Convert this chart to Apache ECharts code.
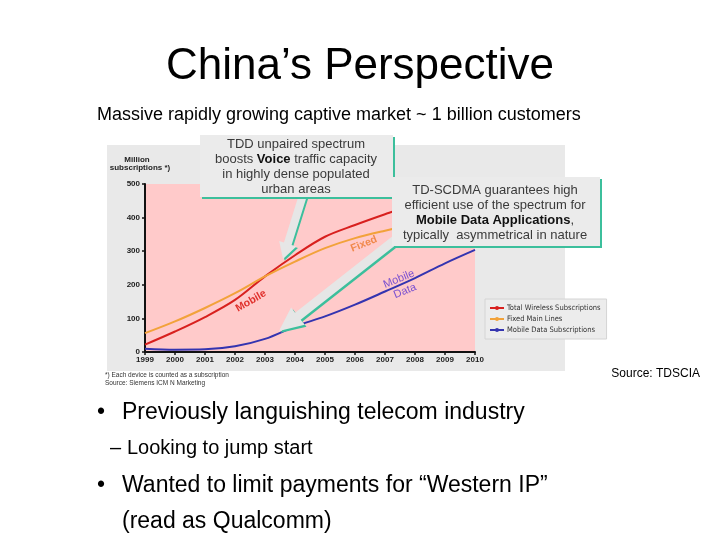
<!DOCTYPE html>
<html>
<head>
<meta charset="utf-8">
<script src="https://cdn.jsdelivr.net/npm/echarts@6/dist/echarts.min.js"></script>
<style>
html,body{margin:0;padding:0;background:#fff;}
#c{width:720px;height:540px;}
</style>
</head>
<body>
<div id="c"></div>
<script>
const years = [1999, 2000, 2001, 2002, 2003, 2004, 2005, 2006, 2007, 2008, 2009, 2010];
const wireless = [22, 61, 104, 155, 225, 288, 343, 378, 410, 440, 465, 485];
const fixedLines = [56, 91, 131, 175, 225, 269, 309, 339, 361, 380, 395, 405];
const mobileData = [10, 7, 8, 17, 39, 76, 106, 141, 180, 220, 264, 304];
const seriesNames = ['Total Wireless Subscriptions', 'Fixed Main Lines', 'Mobile Data Subscriptions'];
const seriesColors = ['#d8201e', '#f2a23a', '#3434b0'];

const F = "'Liberation Sans', Arial, sans-serif";
const FN = "'Liberation Sans Narrow', 'DejaVu Sans Condensed', 'Liberation Sans', sans-serif";

function arrowPts(tx, ty, px, py, sw, hw, hl) {
  const dx = px - tx, dy = py - ty, L = Math.hypot(dx, dy);
  const ux = dx / L, uy = dy / L, nx = -uy, ny = ux;
  const bx = px - ux * hl, by = py - uy * hl;
  return [[tx + nx * sw, ty + ny * sw], [bx + nx * sw, by + ny * sw], [bx + nx * hw, by + ny * hw],
          [px, py], [bx - nx * hw, by - ny * hw], [bx - nx * sw, by - ny * sw], [tx - nx * sw, ty - ny * sw]];
}
function shift(pts, d) { return pts.map(p => [p[0] + d, p[1] + d]); }

function txt(x, y, text, size, opts) {
  opts = opts || {};
  return {
    type: 'text', x: x, y: y, z: opts.z || 100, rotation: opts.rot || 0,
    style: {
      text: text, x: 0, y: 0, fontSize: size, fontFamily: opts.family || F,
      fontWeight: opts.weight || 'normal', fill: opts.color || '#000',
      textAlign: opts.align || 'left', textVerticalAlign: 'middle', rich: opts.rich
    }
  };
}

const teal = '#3cbf9c';
const boxFill = '#ebebeb';
const arrowFill = '#e6e6e6';
const boxText = '#3a3a3a';
const richBox = {
  n: { fontSize: 13, fontFamily: F, fill: boxText },
  b: { fontSize: 13, fontFamily: F, fill: '#111', fontWeight: 'bold' }
};

const a1 = arrowPts(303, 195, 283, 259, 4, 9, 16);
const a2 = arrowPts(400, 236, 279, 331, 4.5, 11, 24);
const deg = Math.PI / 180;

const elements = [
  // grey chart panel
  { type: 'rect', z: -10, shape: { x: 107, y: 145, width: 458, height: 226 }, style: { fill: '#e9e9e9' } },
  // axis name
  txt(137, 160, 'Million', 8, { weight: 'bold', align: 'center', color: '#222', z: 5 }),
  txt(140, 168, 'subscriptions *)', 8, { weight: 'bold', align: 'center', color: '#222', z: 5 }),
  // footnotes
  txt(105, 375, '*) Each device is counted as a subscription', 6.5, { color: '#333', z: 5 }),
  txt(105, 383, 'Source: Siemens ICM N Marketing', 6.5, { color: '#333', z: 5 }),
  // curve labels
  txt(251, 301, 'Mobile', 10.5, { weight: 'bold', align: 'center', color: '#e0302c', rot: 30 * deg, z: 20 }),
  txt(364, 244, 'Fixed', 10.5, { weight: 'bold', align: 'center', color: '#f0884a', rot: 22 * deg, z: 20 }),
  txt(399, 279, 'Mobile', 11, { align: 'center', color: '#7a50d0', rot: 22 * deg, z: 20 }),
  txt(405, 291, 'Data', 11, { align: 'center', color: '#7a50d0', rot: 22 * deg, z: 20 }),
  // arrows
  { type: 'polygon', z: 90, shape: { points: shift(a1, 1.6) }, style: { fill: teal } },
  { type: 'polygon', z: 91, shape: { points: a1 }, style: { fill: arrowFill } },
  { type: 'polygon', z: 90, shape: { points: shift(a2, 1.8) }, style: { fill: teal } },
  { type: 'polygon', z: 91, shape: { points: a2 }, style: { fill: arrowFill } },
  // callout box 1
  { type: 'rect', z: 95, shape: { x: 202, y: 137, width: 193, height: 62 }, style: { fill: teal } },
  { type: 'rect', z: 96, shape: { x: 200, y: 135, width: 193, height: 62 }, style: { fill: boxFill } },
  txt(296, 144, 'TDD unpaired spectrum', 13, { align: 'center', color: boxText }),
  txt(296, 159, '{n|boosts }{b|Voice}{n| traffic capacity}', 13, { align: 'center', rich: richBox }),
  txt(296, 174, 'in highly dense populated', 13, { align: 'center', color: boxText }),
  txt(296, 189, 'urban areas', 13, { align: 'center', color: boxText }),
  // callout box 2
  { type: 'rect', z: 95, shape: { x: 394, y: 179, width: 208, height: 69 }, style: { fill: teal } },
  { type: 'rect', z: 96, shape: { x: 392, y: 177, width: 208, height: 69 }, style: { fill: boxFill } },
  txt(495, 190, 'TD-SCDMA guarantees high', 13, { align: 'center', color: boxText }),
  txt(495, 205, 'efficient use of the spectrum for', 13, { align: 'center', color: boxText }),
  txt(495, 220, '{b|Mobile Data Applications}{n|,}', 13, { align: 'center', rich: richBox }),
  txt(495, 235, 'typically  asymmetrical in nature', 13, { align: 'center', color: boxText }),
  // slide text
  txt(360, 67, 'China\u2019s Perspective', 44, { align: 'center' }),
  txt(97, 115, 'Massive rapidly growing captive market ~ 1 billion customers', 18, {}),
  txt(700, 374, 'Source: TDSCIA', 12, { align: 'right' }),
  txt(97, 413, '\u2022', 23, {}),
  txt(122, 413, 'Previously languishing telecom industry', 23, {}),
  txt(110, 448, '\u2013', 20, {}),
  txt(127, 448, 'Looking to jump start', 20, {}),
  txt(97, 486, '\u2022', 23, {}),
  txt(122, 486, 'Wanted to limit payments for \u201cWestern IP\u201d', 23, {}),
  txt(122, 522, '(read as Qualcomm)', 23, {})
];

const chart = echarts.init(document.getElementById('c'));
chart.setOption({
  animation: false,
  backgroundColor: '#ffffff',
  grid: { left: 145, right: 245, top: 184, bottom: 188, show: true, backgroundColor: '#ffcaca', borderWidth: 0 },
  xAxis: {
    type: 'value', min: 1999, max: 2010, interval: 1,
    splitLine: { show: false },
    axisLine: { show: true, onZero: false, lineStyle: { color: '#111', width: 2 } },
    axisTick: { show: true, length: 3, lineStyle: { color: '#111', width: 1.5 } },
    axisLabel: { formatter: v => String(v), fontSize: 8, fontWeight: 'bold', color: '#222', fontFamily: F, margin: 4 }
  },
  yAxis: {
    type: 'value', min: 0, max: 500, interval: 100,
    splitLine: { show: false },
    axisLine: { show: true, lineStyle: { color: '#111', width: 2 } },
    axisTick: { show: true, length: 3, lineStyle: { color: '#111', width: 1.5 } },
    axisLabel: { fontSize: 8, fontWeight: 'bold', color: '#222', fontFamily: F, margin: 5 }
  },
  legend: {
    orient: 'vertical', left: 485, top: 299,
    itemWidth: 14, itemHeight: 5, itemGap: 3,
    backgroundColor: '#ececec', borderColor: '#d4d4d4', borderWidth: 1,
    padding: [5, 6, 5, 4],
    textStyle: { fontSize: 7.5, color: '#333', fontFamily: FN, padding: [0, 0, 0, -2] },
    data: seriesNames
  },
  series: [wireless, fixedLines, mobileData].map((vals, k) => ({
    name: seriesNames[k], type: 'line', smooth: 0.35,
    symbol: 'circle', symbolSize: 4, showSymbol: false,
    color: seriesColors[k],
    lineStyle: { width: 2, color: seriesColors[k] },
    data: years.map((y, i) => [y, vals[i]]),
    z: 3
  })),
  graphic: { elements: elements }
});
</script>
</body>
</html>
